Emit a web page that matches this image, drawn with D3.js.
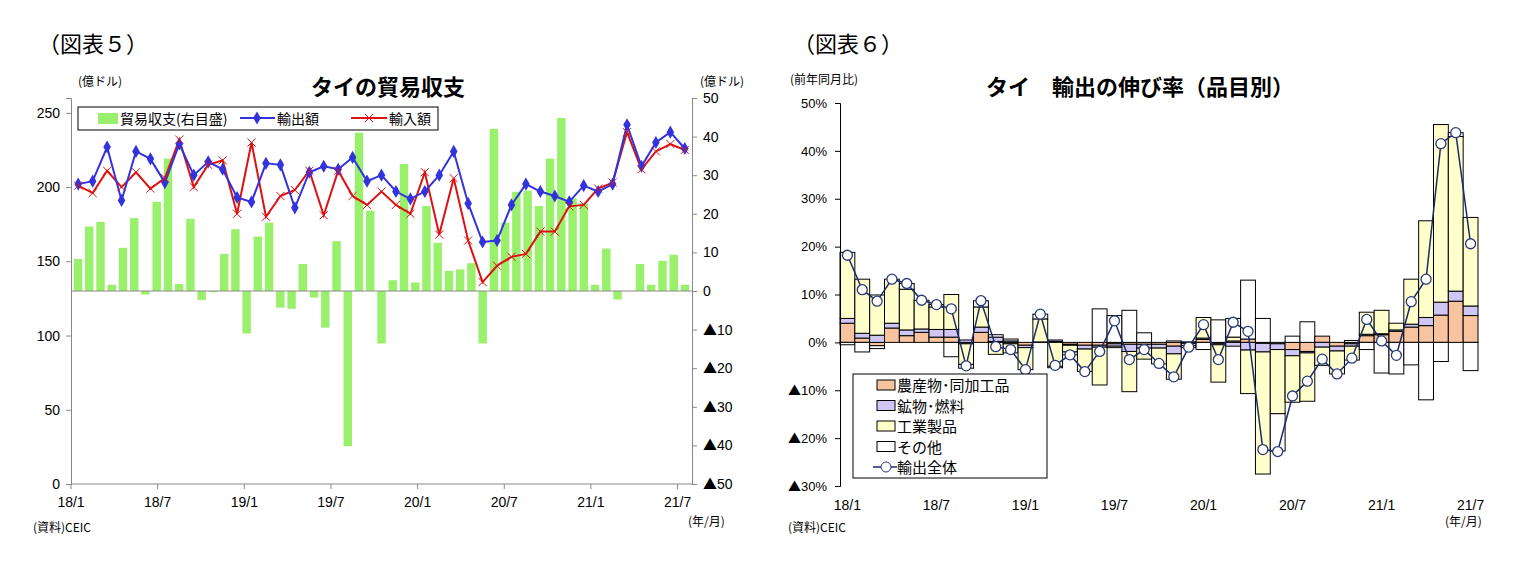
<!DOCTYPE html>
<html><head><meta charset="utf-8">
<script src="https://cdn.jsdelivr.net/npm/d3@7"></script>
<style>
body{margin:0;background:#fff;font-family:"Noto Sans CJK JP","Noto Sans",sans-serif;}
text{fill:#000;}
</style></head><body>
<svg id="c" width="1522" height="573"></svg>
<script>
// ── Data ──────────────────────────────────────────────────────────────────
const months = [];
for (let y = 18; y <= 21; y++) for (let m = 1; m <= 12; m++) if (!(y === 21 && m > 7)) months.push(y + "/" + m);
const tickLabels = ["18/1","18/7","19/1","19/7","20/1","20/7","21/1","21/7"];

// 図表5 (億ドル)
const exports5 = [202,204,227,191,224,219,203,229,208,217,212,193,190,216,215,186,210,214,212,220,204,208,197,192,
                  197,208,224,189,163,164,188,202,197,194,190,201,197,202,242,214,230,237,226];
const imports5 = [201,196,211,200,210,199,206,232,200,215,218,182,230,180,194,198,211,181,211,194,188,197,188,182,
                  210,168,206,164,136,147,153,155,170,170,187,188,199,203,237,212,224,229,225];
// trade balance bars (right axis) — drawn on their own finer category axis as in the source
const balance5 = [8.3,16.7,17.9,1.6,11.2,18.9,-0.9,23.1,34.3,1.8,18.7,-2.3,-0.3,9.6,16.0,-11,14.1,17.7,-4.3,-4.6,
                  7.0,-1.7,-9.5,12.9,-40.2,41,20.8,-13.6,2.8,32.9,2.2,22,12.5,5.2,5.6,7.2,-13.6,42,17.7,25.7,
                  26,22,34.3,44.8,24,22.7,1.6,11,-2.2,0,7,1.6,7.8,9.4,1.6];

// 図表6 (%)
const agri  = [4.0,0.9,-0.7,3.0,1.4,2.1,1.1,1.1,-0.3,2.1,0.2,-0.3,-0.6,0.1,0.2,-0.4,-0.6,-0.6,-0.3,-0.4,-0.4,-0.4,-0.8,-0.2,
               0.6,-0.2,0.3,0.7,-0.2,-0.3,-1.5,-1.9,1.3,-0.8,-0.3,1.4,1.6,2.3,3.2,3.5,5.7,8.6,5.6];
const mine  = [1.0,1.0,1.5,1.0,1.2,0.7,1.6,1.6,0.5,1.1,0.9,0.3,-0.5,0,0.3,-0.2,-0.8,-0.4,-0.5,-1.5,-0.8,-0.8,-1.6,-0.5,
               0.3,-0.3,-0.8,-1.6,-1.8,-1.2,-1.3,-0.3,-1.0,-1.0,-0.5,0.3,0.2,0.3,0.6,1.7,2.7,2.1,2.0];
const indu  = [13.8,11.3,8.4,9.2,8.5,6.0,4.7,7.3,-4.3,4.2,-2.5,-1.9,-4.6,4.8,-5.0,-1.4,-4.7,-7.9,-0.3,-8.4,-2.3,-3.3,-5.3,-0.4,
               4.3,-7.8,0.8,-9.1,-25.5,-13.4,-9.7,-10.1,-3.8,-4.8,-2.9,4.6,4.9,1.4,9.4,20.2,37.1,32.3,18.5];
const other = [-0.5,-2.0,-0.6,0,1.2,0,0.5,-3.0,-0.8,1.3,0.5,0.4,0,1.0,-0.3,-0.6,0,7.0,5.6,6.7,2.0,0,0.3,0.1,
               -1.5,4.7,3.9,12.3,5.0,-7.8,1.3,4.3,0,0,0.4,-1.5,-6.4,-6.6,-4.7,-12.0,-4.0,0.8,-5.9];
const total6 = [18.2,11.0,8.6,13.2,12.3,8.8,7.9,7.0,-4.9,8.7,-0.9,-1.5,-5.7,5.9,-4.8,-2.6,-6.1,-1.9,4.5,-3.6,-1.5,-4.4,-7.2,-1.0,
                3.7,-3.6,4.2,2.3,-22.4,-22.8,-11.2,-8.1,-3.5,-6.6,-3.3,4.8,0.3,-2.7,8.5,13.2,41.5,43.8,20.6];
const seriesNames6 = ["農産物･同加工品","鉱物･燃料","工業製品","その他"];
const seriesColors6 = ["#f8c4a0","#cfc6f4","#ffffcc","#ffffff"];

const svg = d3.select("#c");
const txt = (x, y, s, size, anchor = "start", weight = "normal") =>
  svg.append("text").attr("x", x).attr("y", y).attr("font-size", size)
     .attr("text-anchor", anchor).attr("font-weight", weight).text(s);

// ▲ in CJK font (full-size glyph), digits in Arial-like font
function tri(sel, fmt) {
  sel.each(function(d) {
    const t = d3.select(this).text("");
    if (d < 0) t.append("tspan").attr("font-family", "Noto Sans CJK JP").text("▲");
    t.append("tspan").text(fmt(Math.abs(d)));
  });
}

// ── 図表5 ─────────────────────────────────────────────────────────────────
{
  const L = 71, R = 692, T = 98, B = 484;
  const x = d3.scaleBand().domain(months).range([L, R]);
  const xb = d3.scaleBand().domain(d3.range(balance5.length)).range([L, R]).padding(0.25);
  const yL = d3.scaleLinear().domain([0, 260]).range([B, T]);
  const yR = d3.scaleLinear().domain([-50, 50]).range([B, T]);

  txt(38, 52, "（図表５）", 22);
  txt(78, 86, "(億ドル)", 12);
  txt(700, 86, "(億ドル)", 12);
  txt(388, 95, "タイの貿易収支", 22, "middle", "bold");

  svg.append("g").selectAll("rect").data(balance5).join("rect")
    .attr("x", (d, i) => xb(i)).attr("width", xb.bandwidth())
    .attr("y", d => yR(Math.max(0, d))).attr("height", d => Math.abs(yR(d) - yR(0)))
    .attr("fill", "#99f06a");
  svg.append("line").attr("x1", L).attr("x2", R).attr("y1", yR(0)).attr("y2", yR(0)).attr("stroke", "#888");

  const gl = svg.append("g").attr("transform", `translate(${L},0)`)
    .call(d3.axisLeft(yL).tickValues([0,50,100,150,200,250]).tickSize(5).tickPadding(6));
  const gr = svg.append("g").attr("transform", `translate(${R},0)`)
    .call(d3.axisRight(yR).tickValues(d3.range(-50, 51, 10)).tickSize(5).tickPadding(6));
  const gx = svg.append("g").attr("transform", `translate(0,${B})`)
    .call(d3.axisBottom(x).tickValues(tickLabels).tickSize(5).tickPadding(8));
  gx.selectAll(".tick").attr("transform", d => `translate(${x(d)},0)`);
  [gl, gr, gx].forEach(g => {
    g.selectAll("path,line").attr("stroke", "#888");
    g.selectAll("text").attr("font-size", 14).attr("font-family", "Liberation Sans, Arial");
  });
  tri(gr.selectAll(".tick text"), v => v);
  gx.select(".domain").attr("d", `M${L},0H${R}`);

  const cx = i => x(months[i]) + x.bandwidth() / 2;
  const line = d3.line().x((d, i) => cx(i)).y(d => yL(d));
  svg.append("path").datum(imports5).attr("d", line).attr("fill", "none").attr("stroke", "#dd1111").attr("stroke-width", 2);
  svg.append("path").datum(exports5).attr("d", line).attr("fill", "none").attr("stroke", "#3333dd").attr("stroke-width", 2);
  const sym = d3.symbol().type(d3.symbolDiamond).size(50);
  svg.append("g").selectAll("path").data(exports5).join("path")
    .attr("transform", (d, i) => `translate(${cx(i)},${yL(d)})`).attr("d", sym).attr("fill", "#3333dd");
  const xs = d3.symbol().type(d3.symbolX).size(45);
  svg.append("g").selectAll("path").data(imports5).join("path")
    .attr("transform", (d, i) => `translate(${cx(i)},${yL(d)})`).attr("d", xs)
    .attr("fill", "none").attr("stroke", "#dd1111").attr("stroke-width", 1);

  // legend
  svg.append("rect").attr("x", 78).attr("y", 107).attr("width", 360).attr("height", 23)
    .attr("fill", "#fff").attr("stroke", "#000");
  svg.append("rect").attr("x", 98).attr("y", 113).attr("width", 20).attr("height", 11).attr("fill", "#99f06a");
  txt(120, 124, "貿易収支(右目盛)", 14);
  svg.append("line").attr("x1", 240).attr("x2", 275).attr("y1", 118).attr("y2", 118).attr("stroke", "#3333dd").attr("stroke-width", 2);
  svg.append("path").attr("transform", "translate(257,118)").attr("d", sym).attr("fill", "#3333dd");
  txt(277, 124, "輸出額", 14);
  svg.append("line").attr("x1", 351).attr("x2", 387).attr("y1", 118).attr("y2", 118).attr("stroke", "#dd1111").attr("stroke-width", 2);
  svg.append("path").attr("transform", "translate(369,118)").attr("d", xs).attr("fill", "none").attr("stroke", "#dd1111");
  txt(389, 124, "輸入額", 14);

  txt(33, 532, "(資料)CEIC", 12);
  txt(688, 526, "(年/月)", 12);
}

// ── 図表6 ─────────────────────────────────────────────────────────────────
{
  const L = 840, R = 1478, T = 103, B = 486;
  const x = d3.scaleBand().domain(months).range([L, R]);
  const y = d3.scaleLinear().domain([-30, 50]).range([B, T]);

  txt(793, 52, "（図表６）", 22);
  txt(790, 84, "(前年同月比)", 12);
  txt(1140, 95, "タイ　輸出の伸び率（品目別）", 22, "middle", "bold");

  const comps = [agri, mine, indu, other];
  const g = svg.append("g");
  months.forEach((m, i) => {
    let pos = 0, neg = 0;
    comps.forEach((s, k) => {
      const v = s[i];
      if (!v) return;
      const y0 = v > 0 ? pos : neg, y1 = y0 + v;
      if (v > 0) pos = y1; else neg = y1;
      g.append("rect").attr("x", x(m)).attr("width", x.bandwidth())
        .attr("y", y(Math.max(y0, y1))).attr("height", Math.abs(y(y0) - y(y1)))
        .attr("fill", seriesColors6[k]).attr("stroke", "#000").attr("stroke-width", 1);
    });
  });

  const gy = svg.append("g").attr("transform", `translate(${L},0)`)
    .call(d3.axisLeft(y).tickValues(d3.range(-30, 51, 10)).tickSize(5).tickPadding(8));
  gy.selectAll("path,line").attr("stroke", "#000");
  gy.selectAll("text").attr("font-size", 13).attr("font-family", "Liberation Sans, Arial");
  tri(gy.selectAll(".tick text"), v => v + "%");
  const gx = svg.append("g").attr("transform", `translate(0,${B})`)
    .call(d3.axisBottom(x).tickValues(tickLabels).tickSize(0).tickPadding(14));
  gx.select(".domain").remove();
  gx.selectAll("text").attr("font-size", 14).attr("font-family", "Liberation Sans, Arial");

  const cx = i => x(months[i]) + x.bandwidth() / 2;
  svg.append("path").datum(total6).attr("d", d3.line().x((d, i) => cx(i)).y(d => y(d)))
    .attr("fill", "none").attr("stroke", "#1a2a6a").attr("stroke-width", 1.5);
  svg.append("g").selectAll("circle").data(total6).join("circle")
    .attr("cx", (d, i) => cx(i)).attr("cy", d => y(d)).attr("r", 5)
    .attr("fill", "#fff").attr("stroke", "#2a3a7a").attr("stroke-width", 1.3);

  // legend
  svg.append("rect").attr("x", 853).attr("y", 374).attr("width", 194).attr("height", 104)
    .attr("fill", "#fff").attr("stroke", "#000");
  seriesNames6.forEach((n, k) => {
    const yy = 385 + k * 20.5;
    svg.append("rect").attr("x", 877).attr("y", yy - 5).attr("width", 18).attr("height", 10)
      .attr("fill", seriesColors6[k]).attr("stroke", "#000");
    txt(897, yy + 6, n, 15);
  });
  const yy = 385 + 4 * 20.5;
  svg.append("line").attr("x1", 873).attr("x2", 897).attr("y1", yy).attr("y2", yy).attr("stroke", "#1a2a6a").attr("stroke-width", 1.5);
  svg.append("circle").attr("cx", 886).attr("cy", yy).attr("r", 5).attr("fill", "#fff").attr("stroke", "#2a3a7a");
  txt(897, yy + 6, "輸出全体", 15);

  txt(788, 532, "(資料)CEIC", 12);
  txt(1445, 526, "(年/月)", 12);
}
</script></body></html>
